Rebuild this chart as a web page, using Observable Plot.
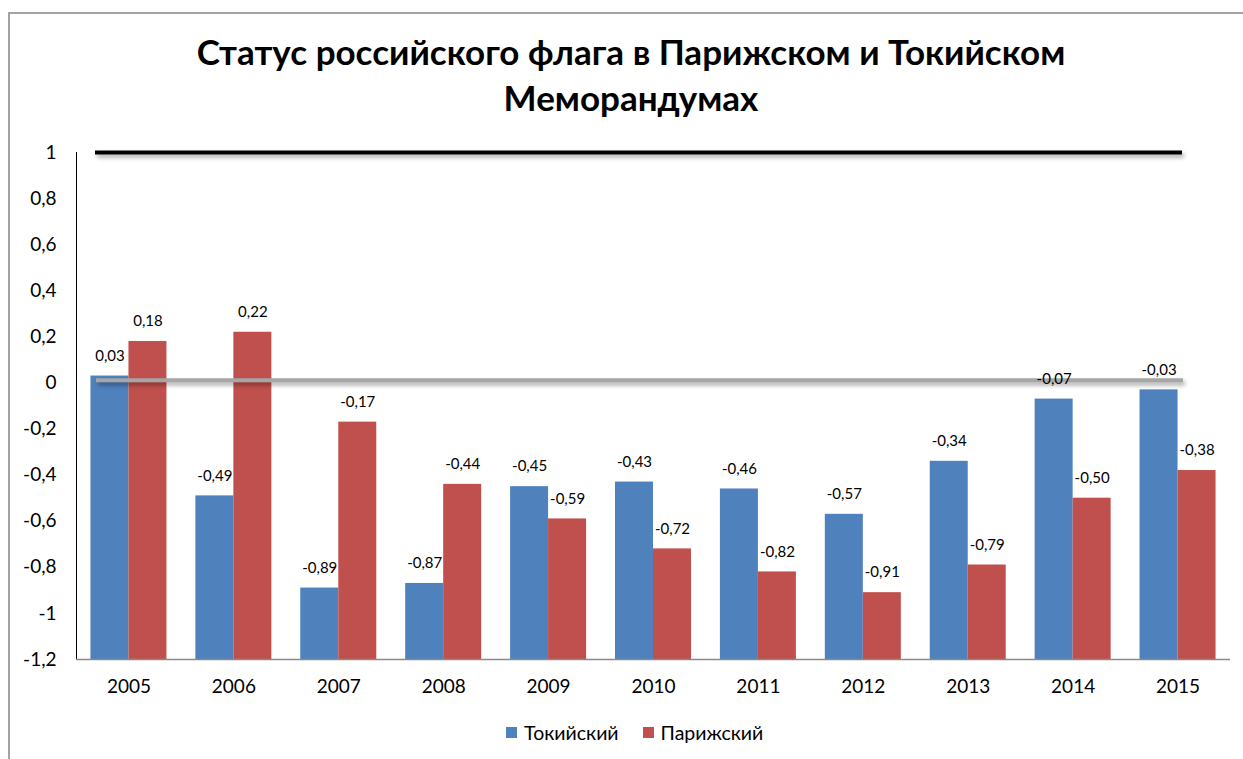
<!DOCTYPE html>
<html>
<head>
<meta charset="utf-8">
<script src="https://cdn.jsdelivr.net/npm/d3@7"></script>
<script src="https://cdn.jsdelivr.net/npm/@observablehq/plot@0.6"></script>
<style>
  html, body { margin: 0; padding: 0; background: #fff; overflow: hidden; }
  #wrap { position: relative; width: 1243px; height: 759px; overflow: hidden; font-family: Lato, "Open Sans", sans-serif; }
  #frame { position: absolute; left: 8px; top: 12px; width: 1500px; height: 900px; border: 2px solid #a3a3a3; box-sizing: border-box; }
  #title { position: absolute; left: 8px; width: 1246px; top: 28px; text-align: center; font-weight: bold; font-size: 35px; line-height: 46px; color: #000; }
  #chart { position: absolute; left: 0; top: 130px; }
  #legend { position: absolute; left: 506px; top: 721px; display: flex; align-items: center; font-size: 19.5px; color: #000; }
  #legend .sw { width: 11px; height: 11px; display: inline-block; margin-right: 7px; }
  #legend .it { display: flex; align-items: center; margin-right: 24px; }
</style>
</head>
<body>
<div id="wrap">
  <div id="frame"></div>
  <div id="title">Статус российского флага в Парижском и Токийском<br>Меморандумах</div>
  <div id="chart"></div>
  <div id="legend"></div>
</div>
<script>
const years = ["2005","2006","2007","2008","2009","2010","2011","2012","2013","2014","2015"];
const tokyo = [0.03, -0.49, -0.89, -0.87, -0.45, -0.43, -0.46, -0.57, -0.34, -0.07, -0.03];
const paris = [0.18, 0.22, -0.17, -0.44, -0.59, -0.72, -0.82, -0.91, -0.79, -0.50, -0.38];
const seriesNames = ["Токийский", "Парижский"];
const seriesColors = ["#4F81BD", "#C0504D"];
const yTicks = [-1.2, -1, -0.8, -0.6, -0.4, -0.2, 0, 0.2, 0.4, 0.6, 0.8, 1];
const upperLine = [1];
const lowerLine = [0.012];
const yMin = -1.2, yMax = 1;

const fmt = v => v.toFixed(2).replace(".", ",");
const tfmt = v => String(+v.toFixed(1)).replace(".", ",");

const tData = years.map((y, i) => ({year: y, v: tokyo[i]}));
const pData = years.map((y, i) => ({year: y, v: paris[i]}));

const W = 1243, H = 580;
const mL = 76, mR = 13;
const step = (W - mL - mR) / years.length;
const barW = 38;
const side = step / 2 - barW;

const font = "Lato, 'Open Sans', sans-serif";

const svg = Plot.plot({
  width: W,
  height: H,
  marginLeft: mL,
  marginRight: mR,
  marginTop: 22,
  marginBottom: 51,
  style: {fontFamily: font, fontSize: "19px", color: "#000", background: "transparent"},
  x: {domain: years, padding: 0, round: false, label: null, tickSize: 0, tickPadding: 20},
  y: {domain: [yMin, yMax], ticks: yTicks, tickFormat: tfmt, label: null, tickSize: 0, tickPadding: 20, line: true},
  marks: [
    Plot.barY(tData, {x: "year", y1: yMin, y2: "v", fill: seriesColors[0], insetLeft: side, insetRight: step / 2}),
    Plot.barY(pData, {x: "year", y1: yMin, y2: "v", fill: seriesColors[1], insetLeft: step / 2, insetRight: side}),
    Plot.ruleY(upperLine, {stroke: "#000", strokeWidth: 4, insetLeft: 19, insetRight: 48}),
    Plot.ruleY(lowerLine, {stroke: "#a6a6a6", strokeWidth: 4, insetLeft: 20, insetRight: 47}),
    Plot.ruleY([yMin], {stroke: "#8a8a8a", strokeWidth: 1.5}),
    Plot.text(tData, {x: "year", y: "v", text: d => fmt(d.v), dx: -barW / 2, dy: -20, lineAnchor: "middle", fontSize: 15, fill: "#000"}),
    Plot.text(pData, {x: "year", y: "v", text: d => fmt(d.v), dx: barW / 2, dy: -20, lineAnchor: "middle", fontSize: 15, fill: "#000"})
  ]
});

svg.querySelectorAll('[aria-label="y-axis"], [aria-label="y-axis line"]').forEach(g => {
  g.querySelectorAll("path, line").forEach(p => { p.setAttribute("stroke", "#8a8a8a"); p.setAttribute("stroke-width", "1.5"); });
});
svg.querySelectorAll('[aria-label="rule"]').forEach((g, i) => {
  if (i < 2) g.style.filter = "drop-shadow(2px 3px 2px rgba(0,0,0,0.35))";
});
document.getElementById("chart").appendChild(svg);

const legend = document.getElementById("legend");
seriesNames.forEach((n, i) => {
  const it = document.createElement("div");
  it.className = "it";
  it.innerHTML = `<span class="sw" style="background:${seriesColors[i]}"></span><span>${n}</span>`;
  legend.appendChild(it);
});
</script>
</body>
</html>
